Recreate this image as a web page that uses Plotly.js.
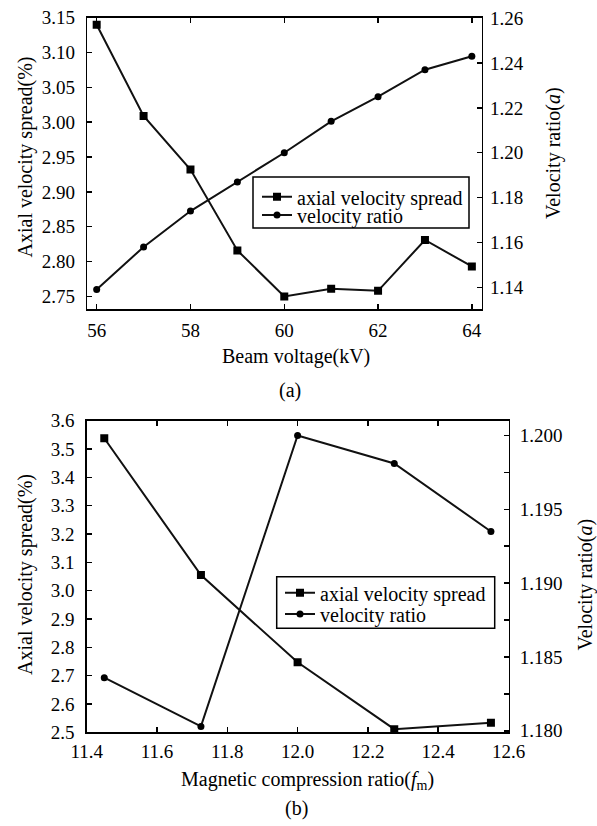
<!DOCTYPE html>
<html>
<head>
<meta charset="utf-8">
<script src="https://cdn.plot.ly/plotly-3.0.1.min.js"></script>
<style>
  html, body { margin: 0; padding: 0; background: #fff; }
  #chart { width: 597px; height: 826px; }
</style>
</head>
<body>
<div id="chart"></div>
<script>
// Panel (a): sweep of beam voltage
const beamVoltage = [56, 57, 58, 59, 60, 61, 62, 63, 64];
const spreadVsVoltage = [3.140, 3.009, 2.932, 2.816, 2.750, 2.761, 2.758, 2.831, 2.793];
const ratioVsVoltage = [1.139, 1.158, 1.174, 1.187, 1.200, 1.214, 1.225, 1.237, 1.243];

// Panel (b): sweep of magnetic compression ratio
const compressionRatio = [11.45, 11.725, 12.0, 12.275, 12.55];
const spreadVsCompression = [3.538, 3.055, 2.747, 2.511, 2.534];
const ratioVsCompression = [1.1836, 1.1803, 1.2000, 1.1981, 1.1935];

const seriesNames = ['axial velocity spread', 'velocity ratio'];

const FONT = 'Liberation Serif';
const INK = '#000';

const line = { color: '#111', width: 2 };
const squareMarker = { symbol: 'square', size: 8, color: '#000' };
const circleMarker = { symbol: 'circle', size: 7, color: '#000' };

// each legend entry gets its own legend so the rows can sit close together;
// a shared frame is drawn around each pair as a shape
const traces = [
  { x: beamVoltage, y: spreadVsVoltage, name: seriesNames[0], mode: 'lines+markers',
    line: line, marker: squareMarker, xaxis: 'x', yaxis: 'y', legend: 'legend' },
  { x: beamVoltage, y: ratioVsVoltage, name: seriesNames[1], mode: 'lines+markers',
    line: line, marker: circleMarker, xaxis: 'x', yaxis: 'y2', legend: 'legend2' },
  { x: compressionRatio, y: spreadVsCompression, name: seriesNames[0], mode: 'lines+markers',
    line: line, marker: squareMarker, xaxis: 'x2', yaxis: 'y3', legend: 'legend3' },
  { x: compressionRatio, y: ratioVsCompression, name: seriesNames[1], mode: 'lines+markers',
    line: line, marker: circleMarker, xaxis: 'x2', yaxis: 'y4', legend: 'legend4' }
];

const axisBase = {
  showline: true, linecolor: INK, linewidth: 1.5,
  ticks: 'inside', ticklen: 5, tickwidth: 1.5, tickcolor: INK,
  showgrid: false, zeroline: false, fixedrange: true,
  tickfont: { family: FONT, size: 19, color: INK }
};

const legendBase = {
  font: { family: FONT, size: 20, color: INK },
  bgcolor: 'rgba(0,0,0,0)', borderwidth: 0,
  xanchor: 'left', yanchor: 'top', itemwidth: 30
};

function label(text, x, y, angle) {
  return {
    text: text, x: x, y: y, xref: 'paper', yref: 'paper',
    xanchor: 'center', yanchor: 'middle', showarrow: false, textangle: angle || 0,
    font: { family: FONT, size: 20, color: INK }
  };
}

function frame(x0, y0, x1, y1) {
  return {
    type: 'rect', xref: 'paper', yref: 'paper', x0: x0, y0: y0, x1: x1, y1: y1,
    line: { color: INK, width: 1.5 }, fillcolor: 'rgba(0,0,0,0)', layer: 'above'
  };
}

const W = 597, H = 826;
const px = v => v / W;
const py = v => 1 - v / H;

const layout = {
  width: W, height: H,
  margin: { l: 0, r: 0, t: 0, b: 0 },
  paper_bgcolor: '#fff', plot_bgcolor: '#fff',
  font: { family: FONT, size: 19, color: INK },
  showlegend: true,
  xaxis: Object.assign({}, axisBase, {
    domain: [px(87.3), px(481.7)], range: [55.8, 64.21],
    tick0: 56, dtick: 2, mirror: 'ticks', anchor: 'y', ticklabelstandoff: 3
  }),
  yaxis: Object.assign({}, axisBase, {
    domain: [py(309.3), py(17.7)], range: [2.7315, 3.15],
    tick0: 2.75, dtick: 0.05, tickformat: '.2f', anchor: 'x', ticklabelstandoff: 7
  }),
  yaxis2: Object.assign({}, axisBase, {
    domain: [py(309.3), py(17.7)], range: [1.1302, 1.2602],
    tick0: 1.14, dtick: 0.02, tickformat: '.2f', overlaying: 'y', side: 'right',
    anchor: 'x', ticklabelstandoff: 3
  }),
  xaxis2: Object.assign({}, axisBase, {
    domain: [px(86.7), px(508.5)], range: [11.4, 12.6],
    tick0: 11.4, dtick: 0.2, tickformat: '.1f', mirror: 'ticks', anchor: 'y3', ticklabelstandoff: 1
  }),
  yaxis3: Object.assign({}, axisBase, {
    domain: [py(732.3), py(420.7)], range: [2.5, 3.6],
    tick0: 2.5, dtick: 0.1, tickformat: '.1f', anchor: 'x2', ticklabelstandoff: 7
  }),
  yaxis4: Object.assign({}, axisBase, {
    domain: [py(732.3), py(420.7)], range: [1.1799, 1.2010],
    tick0: 1.18, dtick: 0.005, tickformat: '.3f', overlaying: 'y3', side: 'right',
    anchor: 'x2', ticklabelstandoff: 6,
    minor: { dtick: 0.0025, ticks: 'inside', ticklen: 5, tickwidth: 1.5, tickcolor: INK, showgrid: false }
  }),
  legend: Object.assign({}, legendBase, { x: px(257), y: py(177.2) }),
  legend2: Object.assign({}, legendBase, { x: px(257), y: py(195.5) }),
  legend3: Object.assign({}, legendBase, { x: px(280), y: py(573.2) }),
  legend4: Object.assign({}, legendBase, { x: px(280), y: py(594.5) }),
  shapes: [
    frame(px(253), py(228), px(469), py(177)),
    frame(px(276.7), py(628.3), px(494.7), py(576.7))
  ],
  annotations: [
    label('Axial velocity spread(%)', px(25), py(157.5), -90),
    label('Velocity ratio(<i>a</i>)', px(553), py(153), -90),
    label('Beam voltage(kV)', px(295.5), py(357)),
    label('(a)', px(290), py(390)),
    label('Axial velocity spread(%)', px(25), py(575), -90),
    label('Velocity ratio(<i>a</i>)', px(585), py(584.5), -90),
    label('Magnetic compression ratio(<i>f</i><sub>m</sub>)', px(307), py(780.7)),
    label('(b)', px(296), py(808))
  ]
};

Plotly.newPlot('chart', traces, layout, { staticPlot: true, displayModeBar: false });
</script>
</body>
</html>
